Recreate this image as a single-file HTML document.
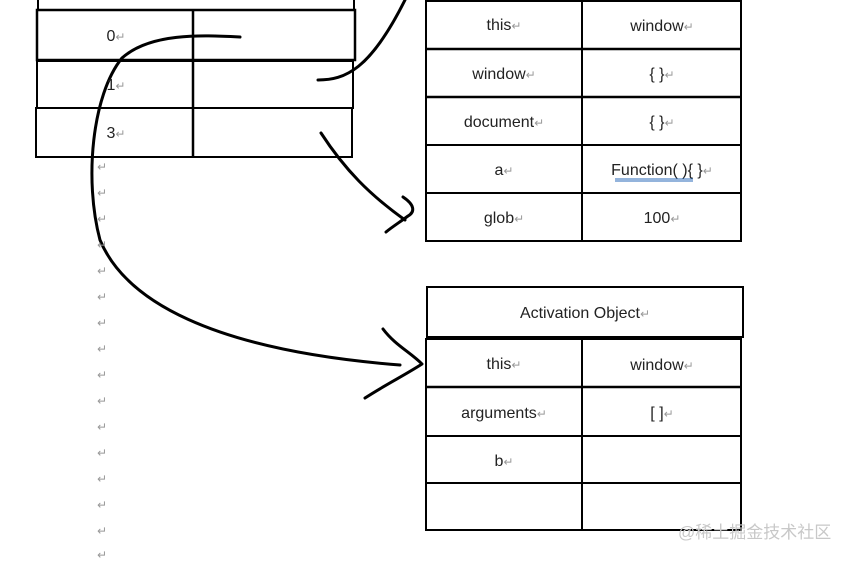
<!DOCTYPE html>
<html><head><style>
html,body{margin:0;padding:0;background:#fff;}
svg text{font-family:"Liberation Sans","DejaVu Sans",sans-serif;font-size:16px;fill:#222;}
.r{fill:#999;font-size:12px;}
</style></head><body>
<svg width="856" height="559" viewBox="0 0 856 559" xmlns="http://www.w3.org/2000/svg">
<g fill="none" stroke="#000" stroke-width="2">
<!-- left table -->
<rect x="38" y="-10" width="316" height="20"/>
<rect x="37" y="10" width="318" height="50" stroke-width="2.5"/>
<rect x="37" y="61" width="316" height="47"/>
<rect x="36" y="108" width="316" height="49"/>
<line x1="193" y1="10" x2="193" y2="158" stroke-width="2.5"/>
<!-- top right table -->
<rect x="426" y="1" width="315" height="240"/>
<line x1="426" y1="49" x2="741" y2="49" stroke-width="2.5"/>
<line x1="426" y1="97" x2="741" y2="97" stroke-width="2.5"/>
<line x1="426" y1="145" x2="741" y2="145"/>
<line x1="426" y1="193" x2="741" y2="193"/>
<line x1="582" y1="1" x2="582" y2="241"/>
<!-- bottom right table -->
<rect x="427" y="287" width="316" height="50"/>
<rect x="426" y="339" width="315" height="191"/>
<line x1="426" y1="387" x2="741" y2="387" stroke-width="2.5"/>
<line x1="426" y1="436" x2="741" y2="436"/>
<line x1="426" y1="483" x2="741" y2="483"/>
<line x1="582" y1="339" x2="582" y2="530"/>
</g>
<g fill="none" stroke="#000" stroke-width="3" stroke-linecap="round" stroke-linejoin="round">
<path d="M240,37 C200,35 150,33 122,58 C92,95 84,180 100,240 C125,300 210,350 400,365"/>
<path d="M383,329 C395,345 410,352 422,364 C405,375 385,385 365,398"/>
<path d="M318,80 C345,80 370,70 405,0"/>
<path d="M321,133 C345,170 370,195 405,220"/>
<path d="M403,197 C415,205 415,212 408,216 C400,222 392,227 386,232"/>
</g>
<g text-anchor="middle">
<text x="116" y="41">0<tspan class="r">↵</tspan></text>
<text x="116" y="90">1<tspan class="r">↵</tspan></text>
<text x="116" y="138">3<tspan class="r">↵</tspan></text>
<text x="504" y="30">this<tspan class="r">↵</tspan></text>
<text x="662" y="31">window<tspan class="r">↵</tspan></text>
<text x="504" y="79">window<tspan class="r">↵</tspan></text>
<text x="662" y="79">{ }<tspan class="r">↵</tspan></text>
<text x="504" y="127">document<tspan class="r">↵</tspan></text>
<text x="662" y="127">{ }<tspan class="r">↵</tspan></text>
<text x="504" y="175">a<tspan class="r">↵</tspan></text>
<text x="662" y="175">Function( ){ }<tspan class="r">↵</tspan></text>
<text x="504" y="223">glob<tspan class="r">↵</tspan></text>
<text x="662" y="223">100<tspan class="r">↵</tspan></text>
<text x="585" y="318">Activation Object<tspan class="r">↵</tspan></text>
<text x="504" y="369">this<tspan class="r">↵</tspan></text>
<text x="662" y="370">window<tspan class="r">↵</tspan></text>
<text x="504" y="418">arguments<tspan class="r">↵</tspan></text>
<text x="662" y="418">[ ]<tspan class="r">↵</tspan></text>
<text x="504" y="466">b<tspan class="r">↵</tspan></text>
</g>
<line x1="615" y1="179" x2="693" y2="179" stroke="#2a6ab8" stroke-width="1"/>
<line x1="615" y1="181" x2="693" y2="181" stroke="#2a6ab8" stroke-width="1"/>
<g class="r">
<text class="r" x="97" y="171">↵</text><text class="r" x="97" y="197">↵</text>
<text class="r" x="97" y="223">↵</text><text class="r" x="97" y="249">↵</text>
<text class="r" x="97" y="275">↵</text><text class="r" x="97" y="301">↵</text>
<text class="r" x="97" y="327">↵</text><text class="r" x="97" y="353">↵</text>
<text class="r" x="97" y="379">↵</text><text class="r" x="97" y="405">↵</text>
<text class="r" x="97" y="431">↵</text><text class="r" x="97" y="457">↵</text>
<text class="r" x="97" y="483">↵</text><text class="r" x="97" y="509">↵</text>
<text class="r" x="97" y="535">↵</text><text class="r" x="97" y="559">↵</text>
</g>
<text x="678" y="538" style="font-family:'Liberation Sans','Noto Sans CJK SC',sans-serif;font-size:17px;fill:#c8c8c8">@稀土掘金技术社区</text>
</svg>
</body></html>
